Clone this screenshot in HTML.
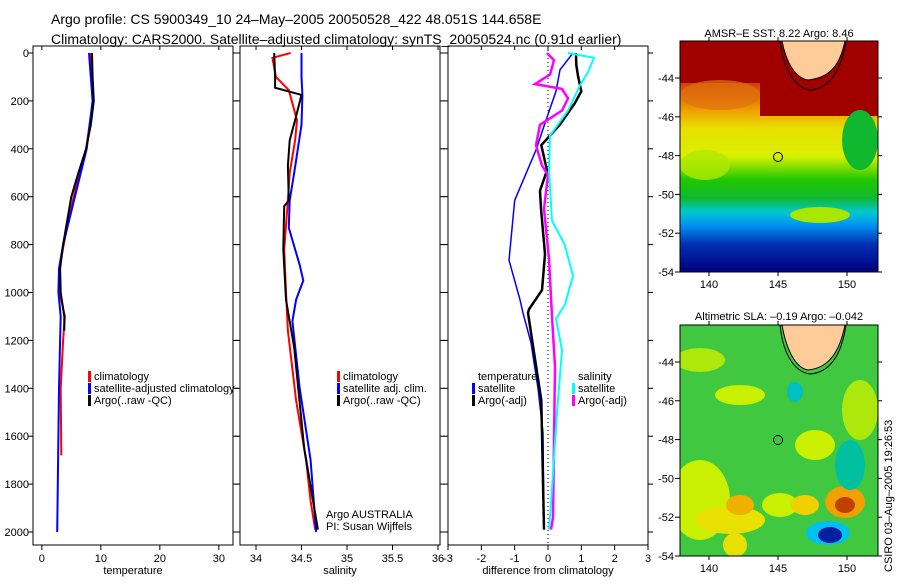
<!DOCTYPE html>
<html><head><meta charset="utf-8"><style>
body{margin:0;background:#fff;width:900px;height:580px;overflow:hidden;font-family:"Liberation Sans",sans-serif}
svg text{font-family:"Liberation Sans",sans-serif;fill:#000}
</style></head><body>
<svg id="c" width="900" height="580" xmlns="http://www.w3.org/2000/svg">
<text x="51" y="24" font-size="14">Argo profile: CS 5900349_10 24–May–2005 20050528_422 48.051S 144.658E</text>
<text x="51" y="44" font-size="14">Climatology: CARS2000. Satellite–adjusted climatology: synTS_20050524.nc (0.91d earlier)</text>
<g id="plots"></g>
<defs>
<linearGradient id="sst" x1="0" y1="0" x2="0" y2="1">
<stop offset="0" stop-color="#a00000"/><stop offset="0.12" stop-color="#b81000"/><stop offset="0.2" stop-color="#d85000"/><stop offset="0.3" stop-color="#f0a000"/><stop offset="0.38" stop-color="#e8e000"/><stop offset="0.5" stop-color="#d8f000"/><stop offset="0.6" stop-color="#20c800"/><stop offset="0.68" stop-color="#10b830"/><stop offset="0.74" stop-color="#00c8d0"/><stop offset="0.8" stop-color="#0090f0"/><stop offset="0.88" stop-color="#0030b0"/><stop offset="1" stop-color="#000080"/>
</linearGradient>
<clipPath id="m1"><rect x="680" y="41" width="198" height="231"/></clipPath>
<clipPath id="m2"><rect x="680" y="325" width="198" height="231"/></clipPath>
</defs>
<g>
<text x="779" y="37" font-size="11" text-anchor="middle">AMSR–E SST: 8.22 Argo: 8.46</text>
<g clip-path="url(#m1)">
<rect x="680" y="41" width="198" height="231" fill="url(#sst)"/>
<rect x="680" y="41" width="198" height="42" fill="#a00000"/>
<rect x="760" y="41" width="118" height="75" fill="#a00000"/>
<ellipse cx="720" cy="95" rx="40" ry="15" fill="#e07010" opacity="0.7"/>
<ellipse cx="860" cy="140" rx="18" ry="30" fill="#10b830"/>
<ellipse cx="820" cy="215" rx="30" ry="8" fill="#a8e800"/>
<ellipse cx="705" cy="165" rx="25" ry="15" fill="#b0e800" opacity="0.8"/>
<path d="M782,41 L845,41 C840,65 830,78 808,80 C795,78 786,62 782,41Z" fill="#ffcc99" stroke="#000" stroke-width="1"/>
<path d="M780,41 C783,68 795,88 810,90 C835,88 843,60 846,41" fill="none" stroke="#000" stroke-width="1"/>
</g>
<rect x="680" y="41" width="198" height="231" fill="none" stroke="#000"/>
<circle cx="778" cy="157" r="4.5" fill="none" stroke="#000"/>
</g>
<g>
<text x="779" y="320" font-size="11" text-anchor="middle">Altimetric SLA: –0.19 Argo: –0.042</text>
<g clip-path="url(#m2)">
<rect x="680" y="325" width="198" height="231" fill="#40c840"/>
<ellipse cx="700" cy="500" rx="30" ry="40" fill="#c8f000"/>
<ellipse cx="730" cy="520" rx="35" ry="14" fill="#e8e000"/>
<ellipse cx="740" cy="505" rx="14" ry="10" fill="#f0b000"/>
<ellipse cx="780" cy="505" rx="18" ry="12" fill="#c8f000"/>
<ellipse cx="805" cy="505" rx="14" ry="10" fill="#f0d000"/>
<ellipse cx="845" cy="502" rx="20" ry="16" fill="#f0a000"/>
<ellipse cx="845" cy="505" rx="10" ry="8" fill="#c04000"/>
<ellipse cx="828" cy="533" rx="22" ry="12" fill="#00c0f0"/>
<ellipse cx="830" cy="535" rx="12" ry="8" fill="#0020a0"/>
<ellipse cx="735" cy="545" rx="12" ry="12" fill="#e8e000"/>
<ellipse cx="740" cy="395" rx="25" ry="10" fill="#c8f000"/>
<ellipse cx="815" cy="445" rx="20" ry="15" fill="#c8f000"/>
<ellipse cx="795" cy="392" rx="8" ry="10" fill="#00c0c0"/>
<ellipse cx="850" cy="465" rx="15" ry="25" fill="#00c0a0"/>
<ellipse cx="860" cy="410" rx="18" ry="30" fill="#c8f000" opacity="0.8"/>
<ellipse cx="700" cy="360" rx="25" ry="12" fill="#c8f000" opacity="0.8"/>
<path d="M782,325 L845,325 C840,350 830,368 808,370 C795,368 786,348 782,325Z" fill="#ffcc99" stroke="#000" stroke-width="1"/>
<path d="M780,325 C783,355 795,372 810,374 C835,372 843,345 846,325" fill="none" stroke="#000" stroke-width="1"/>
</g>
<rect x="680" y="325" width="198" height="231" fill="none" stroke="#000"/>
<circle cx="778" cy="440" r="4.5" fill="none" stroke="#000"/>
</g>
<text transform="translate(892,572) rotate(-90)" font-size="11">CSIRO 03–Aug–2005 19:26:53</text>
</svg>
<script>
const depthT = [0,100,200,300,400,500,600,700,800,900,1000,1100,1200,1400,1680];
const tempClim = [8.2,8.4,8.7,8.1,7.5,6.4,5.4,4.5,3.7,3.0,3.0,3.9,3.6,3.2,3.3];
const depthTS = [0,100,200,300,400,500,600,700,800,900,1000,1100,1200,1400,1600,1800,2000];
const tempSat = [8.0,8.3,8.6,8.1,7.6,6.6,5.6,4.6,3.6,2.9,2.8,3.2,3.1,2.9,2.8,2.7,2.6];
const depthTA = [0,100,200,300,400,500,600,700,800,900,1000,1100,1160];
const tempArgo = [8.5,8.6,8.8,8.3,7.5,6.2,5.0,4.3,3.6,3.1,3.2,3.8,3.8];

const depthS = [0,20,100,155,280,365,500,615,820,1000,1160,1450,1700,1870,1990];
const salClim = [34.38,34.18,34.22,34.36,34.45,34.43,34.37,34.35,34.31,34.33,34.35,34.44,34.55,34.6,34.65];
const depthSS = [0,100,175,300,500,615,730,885,950,1030,1120,1400,1700,2000];
const salSat = [34.5,34.5,34.51,34.5,34.42,34.37,34.36,34.48,34.52,34.44,34.4,34.48,34.6,34.66];
const depthSA = [0,100,145,175,280,365,470,615,640,820,1030,1230,1650,1990];
const salArgo = [34.2,34.21,34.21,34.5,34.43,34.37,34.35,34.36,34.31,34.3,34.33,34.42,34.53,34.68];

const depthD1 = [0,70,160,280,405,615,865,1030,1085,1210,1400,1585,1990];
const diffTSat = [0.75,0.36,0.24,-0.06,-0.36,-1.0,-1.17,-0.84,-0.75,-0.51,-0.3,-0.15,-0.12];
const depthD2 = [0,50,95,160,210,300,385,490,575,650,840,990,1070,1085,1450,1990];
const diffTArgo = [0.84,0.85,0.9,1.0,0.8,0.35,-0.2,-0.03,-0.24,-0.21,-0.09,-0.18,-0.57,-0.6,-0.2,-0.12];
const depthD3 = [0,30,90,130,150,190,240,300,385,470,510,650,860,1100,1310,1940,1990];
const diffSArgo = [-0.03,0.18,0.06,-0.39,0.42,0.6,0.42,-0.24,-0.36,-0.18,0,-0.12,0.03,0.12,0.21,0.15,0.09];
const depthD4 = [0,20,80,135,240,345,490,700,800,930,1050,1110,1240,1500,1880,1990];
const diffSSat = [0.6,1.38,1.2,0.96,0.6,0.06,0.03,0.12,0.5,0.75,0.51,0.24,0.42,0.27,0.09,0.03];

const depthTicks = [0,200,400,600,800,1000,1200,1400,1600,1800,2000];
const tempTicks = [0,10,20,30];
const salTicks = [34,34.5,35,35.5,36];
const diffTicks = [-3,-2,-1,0,1,2,3];

const NS="http://www.w3.org/2000/svg";
const root=document.getElementById('plots');
const Y0=53, Y1=532;
function yS(d){return Y0+(Y1-Y0)*d/2000;}
function mk(tag,attrs,parent){const e=document.createElementNS(NS,tag);for(const k in attrs)e.setAttribute(k,attrs[k]);(parent||root).appendChild(e);return e;}
const panels=[
 {x0:33,x1:233,vmin:-1.5,vmax:32.4,ticks:tempTicks,label:'temperature',name:'temperature-panel'},
 {x0:240,x1:440,vmin:33.824,vmax:36.022,ticks:salTicks,label:'salinity',name:'salinity-panel'},
 {x0:448,x1:648,vmin:-3,vmax:3,ticks:diffTicks,label:'difference from climatology',name:'difference-panel'}
];
function xF(p){return v=>p.x0+(p.x1-p.x0)*(v-p.vmin)/(p.vmax-p.vmin);}
panels.forEach((p,i)=>{
 const g=mk('g',{});
 
 
 mk('rect',{x:p.x0,y:46,width:p.x1-p.x0,height:499,fill:'none',stroke:'#000'},g);
 const xs=xF(p);
 p.ticks.forEach(t=>{
  const x=xs(t);
  mk('line',{x1:x,x2:x,y1:545,y2:550,stroke:'#000'},g);
  mk('line',{x1:x,x2:x,y1:46,y2:50,stroke:'#000'},g);
  const tx=mk('text',{x:x,y:562,'font-size':11,'text-anchor':'middle'},g);
  tx.textContent=String(t);
  
  
 });
 depthTicks.forEach(d=>{
  const y=yS(d);
  mk('line',{x1:p.x0-5,x2:p.x0,y1:y,y2:y,stroke:'#000'},g);
  mk('line',{x1:p.x1,x2:p.x1+5,y1:y,y2:y,stroke:'#000'},g);
  if(i===0){const tx=mk('text',{x:29,y:y+4,'font-size':11,'text-anchor':'end'},g);tx.textContent=String(d);
   
   }
 });
 const lb=mk('text',{x:(p.x0+p.x1)/2,y:574,'font-size':11,'text-anchor':'middle'},g);
 lb.textContent=p.label;
 
 
});
function line(pi,depths,vals,color,w,name,dash){
 const xs=xF(panels[pi]);
 const pts=depths.map((d,k)=>xs(vals[k]).toFixed(1)+','+yS(d).toFixed(1)).join(' ');
 const e=mk('polyline',{points:pts,fill:'none',stroke:color,'stroke-width':w});
 if(dash)e.setAttribute('stroke-dasharray',dash);
 
 
}
line(0,depthT,tempClim,'#f00',2,'temp-climatology-line');
line(0,depthTS,tempSat,'#00f',2,'temp-satellite-line');
line(0,depthTA,tempArgo,'#000',2,'temp-argo-line');
line(1,depthS,salClim,'#f00',2,'sal-climatology-line');
line(1,depthSS,salSat,'#00f',2,'sal-satellite-line');
line(1,depthSA,salArgo,'#000',2,'sal-argo-line');
const zx=xF(panels[2])(0);
const zl=mk('line',{x1:zx,x2:zx,y1:46,y2:545,stroke:'#000','stroke-dasharray':'1,3'});


line(2,depthD1,diffTSat,'#00f',1.5,'diff-temp-satellite-line');
line(2,depthD2,diffTArgo,'#000',2.5,'diff-temp-argo-line');
line(2,depthD3,diffSArgo,'#f0f',2.5,'diff-sal-argo-line');
line(2,depthD4,diffSSat,'#0ff',2,'diff-sal-satellite-line');
function legend(x,y,items,name){
 const g=mk('g',{});
 
 
 items.forEach((it,k)=>{
  const yy=y+k*12;
  if(it[1])mk('rect',{x:x,y:yy-9,width:3,height:11,fill:it[1]},g);
  const t=mk('text',{x:x+6,y:yy,'font-size':11},g);t.textContent=it[0];
 });
}
legend(88,380,[['climatology','#f00'],['satellite-adjusted climatology','#00f'],['Argo(..raw -QC)','#000']],'temp-legend');
legend(337,380,[['climatology','#f00'],['satellite adj. clim.','#00f'],['Argo(..raw -QC)','#000']],'sal-legend');
legend(472,380,[['temperature',null],['satellite','#00f'],['Argo(-adj)','#000']],'diff-temp-legend');
legend(572,380,[['salinity',null],['satellite','#0ff'],['Argo(-adj)','#f0f']],'diff-sal-legend');
const a1=mk('text',{x:326,y:518,'font-size':11});a1.textContent='Argo AUSTRALIA';


const a2=mk('text',{x:326,y:530,'font-size':11});a2.textContent='PI: Susan Wijffels';


function mapAxes(top,bottom,name){
 const g=mk('g',{});
 
 
 [140,145,150].forEach(lo=>{const x=709+(lo-140)*13.8;
  mk('line',{x1:x,x2:x,y1:bottom,y2:bottom+4,stroke:'#000'},g);
  mk('line',{x1:x,x2:x,y1:top-4,y2:top,stroke:'#000'},g);
  const t=mk('text',{x:x,y:bottom+16,'font-size':11,'text-anchor':'middle'},g);t.textContent=String(lo);});
 [-44,-46,-48,-50,-52,-54].forEach(la=>{const y=bottom-(la+54)*19.4;
  mk('line',{x1:675,x2:680,y1:y,y2:y,stroke:'#000'},g);
  mk('line',{x1:878,x2:882,y1:y,y2:y,stroke:'#000'},g);
  const t=mk('text',{x:674,y:y+4,'font-size':11,'text-anchor':'end'},g);t.textContent=String(la);});
}
mapAxes(41,272,'sst-map-axes');
mapAxes(325,556,'sla-map-axes');
</script>
</body></html>
